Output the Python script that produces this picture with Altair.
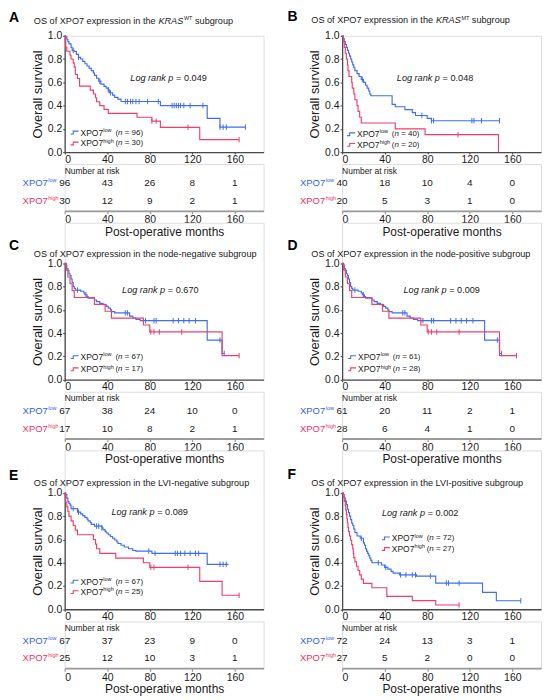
import altair as alt
import pandas as pd

FONT = "Liberation Sans"
BLUE = "#3d6ef5"
RED = "#f43d67"
BLUE_TXT = "#2e62f2"
RED_TXT = "#f2315e"
AXIS = "#4a4a4a"
INK = "#1a1a1a"

X_MAX = 187
W = 200
H = 117
RISK_H = 47
ROW_GAP = 12

TIME_TICKS = [0, 40, 80, 120, 160]
SURV_TICKS = [0.0, 0.2, 0.4, 0.6, 0.8, 1.0]

# ---------------- data ----------------
# Panel A  (KRAS WT)
A_low_t = [0, 1, 2, 3, 4, 6, 7, 9, 11, 13, 15, 17, 19, 21, 23, 25, 27, 28, 30, 32, 34, 37, 39, 41, 42, 45, 47, 50, 53, 90, 134, 146, 170]
A_low_s = [1.0, 0.99, 0.97, 0.95, 0.93, 0.9, 0.875, 0.865, 0.84, 0.815, 0.80, 0.78, 0.76, 0.74, 0.72, 0.70, 0.68, 0.66, 0.635, 0.61, 0.585, 0.565, 0.55, 0.535, 0.51, 0.49, 0.47, 0.455, 0.435, 0.40, 0.29, 0.215, 0.215]
A_low_c = [8, 13, 33, 41, 43, 57, 59, 62, 64, 67, 70, 78, 88, 101, 103, 105, 107, 109, 112, 118, 130, 146, 149, 152, 170]
A_high_t = [0, 0.5, 1, 2, 5, 6, 8, 9, 10, 12, 14, 24, 27, 29, 30, 33, 37, 41, 68, 82, 90, 127, 164]
A_high_s = [1.0, 0.967, 0.9, 0.867, 0.833, 0.8, 0.767, 0.733, 0.667, 0.633, 0.567, 0.533, 0.5, 0.467, 0.433, 0.4, 0.367, 0.333, 0.3, 0.267, 0.213, 0.107, 0.107]
A_high_c = [82, 86, 116, 164]
A_risk_low = [96, 43, 26, 8, 1]
A_risk_high = [30, 12, 9, 2, 1]

# Panel B  (KRAS MT)
B_low_t = [0, 1, 2, 3, 4, 5, 6, 7, 8, 9, 10, 11, 12, 14, 16, 18, 20, 22, 23.5, 25, 26, 27, 47, 50, 59, 66, 69, 80, 84, 148]
B_low_s = [1.0, 0.975, 0.95, 0.925, 0.9, 0.875, 0.85, 0.825, 0.8, 0.775, 0.75, 0.725, 0.7, 0.675, 0.65, 0.625, 0.6, 0.575, 0.55, 0.525, 0.5, 0.485, 0.41, 0.39, 0.365, 0.34, 0.315, 0.29, 0.27, 0.27]
B_low_c = [19, 75, 84, 86, 122, 124, 131, 148]
B_high_t = [0, 1, 2, 3, 4, 5, 5.5, 6.5, 9, 9.5, 11, 12, 14, 15, 16.5, 18, 50, 78, 147]
B_high_s = [1.0, 0.95, 0.9, 0.85, 0.8, 0.75, 0.7, 0.65, 0.6, 0.55, 0.5, 0.45, 0.4, 0.35, 0.3, 0.25, 0.2, 0.15, 0.0]
B_high_c = [109]
B_risk_low = [40, 18, 10, 4, 0]
B_risk_high = [20, 5, 3, 1, 0]

# Panel C  (node-negative)
C_low_t = [0, 1, 2, 3, 4, 5, 6, 7, 8, 9, 10, 15, 18, 19, 21, 22, 28, 30, 33, 36, 39, 41, 43, 44, 47, 61, 64, 67, 71, 134, 148, 150]
C_low_s = [1.0, 0.985, 0.955, 0.94, 0.91, 0.895, 0.865, 0.835, 0.80, 0.785, 0.77, 0.76, 0.745, 0.73, 0.715, 0.70, 0.685, 0.67, 0.655, 0.645, 0.63, 0.615, 0.60, 0.585, 0.574, 0.546, 0.53, 0.517, 0.507, 0.34, 0.225, 0.225]
C_low_c = [12, 20, 57, 59, 76, 84, 86, 102, 107, 112, 117, 123, 146, 150]
C_high_t = [0, 1.5, 3, 5, 7, 9, 28, 38, 44, 74, 80, 148, 164]
C_high_s = [1.0, 0.941, 0.882, 0.824, 0.765, 0.706, 0.647, 0.588, 0.529, 0.47, 0.41, 0.206, 0.206]
C_high_c = [81, 84, 89, 110, 164]
C_risk_low = [67, 38, 24, 10, 0]
C_risk_high = [17, 10, 8, 2, 1]

# Panel D  (node-positive)
D_low_t = [0, 1, 2, 3, 4, 5, 6, 7, 8, 9, 10, 15, 18, 19, 21, 22, 28, 30, 33, 36, 39, 41, 43, 44, 47, 61, 64, 67, 71, 134, 148, 150]
D_low_s = [1.0, 0.985, 0.955, 0.94, 0.91, 0.895, 0.865, 0.835, 0.80, 0.785, 0.77, 0.76, 0.745, 0.73, 0.715, 0.70, 0.685, 0.67, 0.655, 0.645, 0.63, 0.615, 0.60, 0.585, 0.574, 0.546, 0.53, 0.517, 0.507, 0.34, 0.225, 0.225]
D_low_c = [12, 20, 57, 59, 76, 84, 86, 102, 107, 112, 117, 123, 146, 150]
D_high_t = [0, 1.5, 3, 5, 7, 9, 28, 38, 44, 74, 80, 148, 164]
D_high_s = [1.0, 0.941, 0.882, 0.824, 0.765, 0.706, 0.647, 0.588, 0.529, 0.47, 0.41, 0.206, 0.206]
D_high_c = [81, 84, 89, 110, 164]
D_risk_low = [61, 20, 11, 2, 1]
D_risk_high = [28, 6, 4, 1, 0]

# Panel E  (LVI-negative)
E_low_t = [0, 1, 2, 3, 4, 5, 6, 12, 15, 17, 19, 21, 22, 24, 25, 28, 35, 36, 38, 39, 41, 43, 45, 47, 49, 50, 53, 56, 60, 64, 67, 82, 134, 154]
E_low_s = [1.0, 0.985, 0.955, 0.925, 0.91, 0.895, 0.865, 0.835, 0.82, 0.805, 0.79, 0.775, 0.76, 0.745, 0.73, 0.715, 0.70, 0.685, 0.67, 0.655, 0.64, 0.625, 0.61, 0.595, 0.58, 0.565, 0.55, 0.535, 0.52, 0.505, 0.50, 0.48, 0.386, 0.386]
E_low_c = [8, 13, 30, 32, 35, 79, 85, 104, 106, 109, 113, 118, 123, 126, 146, 149, 152]
E_high_t = [0, 0.5, 1, 2, 3, 4, 6, 8, 10, 12, 27, 29, 30, 33, 48, 74, 80, 127, 148, 164]
E_high_s = [1.0, 0.96, 0.92, 0.88, 0.84, 0.8, 0.76, 0.72, 0.68, 0.64, 0.6, 0.56, 0.52, 0.48, 0.44, 0.40, 0.36, 0.24, 0.12, 0.12]
E_high_c = [81, 84, 116, 164]
E_risk_low = [67, 37, 23, 9, 0]
E_risk_high = [25, 12, 10, 3, 1]

# Panel F  (LVI-positive)
F_low_t = [0, 1, 2, 3, 4, 5, 6, 7, 8, 9, 10, 11, 12, 14, 17, 20, 21, 22, 23, 24, 25, 26, 27, 28, 37, 40, 43, 46, 48, 54, 70, 88, 132, 145, 168]
F_low_s = [1.0, 0.986, 0.958, 0.93, 0.9, 0.86, 0.83, 0.8, 0.77, 0.74, 0.72, 0.69, 0.66, 0.63, 0.61, 0.57, 0.55, 0.52, 0.50, 0.48, 0.46, 0.44, 0.42, 0.40, 0.38, 0.36, 0.345, 0.325, 0.31, 0.295, 0.285, 0.225, 0.145, 0.073, 0.073]
F_low_c = [18, 34, 41, 55, 60, 66, 69, 83, 98, 100, 110, 168]
F_high_t = [0, 1, 2, 3, 3.5, 4, 4.5, 5, 5.5, 6, 7, 8, 9, 10, 10.5, 11, 12, 13.5, 15, 16.5, 18, 20, 28, 42, 66, 88, 110]
F_high_s = [1.0, 0.963, 0.926, 0.889, 0.852, 0.815, 0.778, 0.741, 0.704, 0.667, 0.63, 0.593, 0.556, 0.519, 0.481, 0.444, 0.407, 0.37, 0.333, 0.296, 0.259, 0.222, 0.185, 0.111, 0.074, 0.037, 0.037]
F_high_c = [110]
F_risk_low = [72, 24, 13, 3, 1]
F_risk_high = [27, 5, 2, 0, 0]

LETTERS = ["A", "B", "C", "D", "E", "F"]
SUBGROUPS = ["KRAS", "KRAS", "node-negative", "node-positive", "LVI-negative", "LVI-positive"]
KRAS_SUP = ["WT", "MT", None, None, None, None]
P_VALUES = ["0.049", "0.048", "0.670", "0.009", "0.089", "0.002"]
N_LOW = [96, 40, 67, 61, 67, 72]
N_HIGH = [30, 20, 17, 28, 25, 27]

CURVES = [
    (A_low_t, A_low_s, A_low_c, A_high_t, A_high_s, A_high_c, A_risk_low, A_risk_high),
    (B_low_t, B_low_s, B_low_c, B_high_t, B_high_s, B_high_c, B_risk_low, B_risk_high),
    (C_low_t, C_low_s, C_low_c, C_high_t, C_high_s, C_high_c, C_risk_low, C_risk_high),
    (D_low_t, D_low_s, D_low_c, D_high_t, D_high_s, D_high_c, D_risk_low, D_risk_high),
    (E_low_t, E_low_s, E_low_c, E_high_t, E_high_s, E_high_c, E_risk_low, E_risk_high),
    (F_low_t, F_low_s, F_low_c, F_high_t, F_high_s, F_high_c, F_risk_low, F_risk_high),
]

# ---------------- layout of annotations (pixels, relative to plot area) ----------------
# extra = empty band kept above the plot area of panels C-F (keeps the grid rows aligned)
# letter_y = top of the panel letter
LAYOUT = [
    dict(extra=0.0, letter_x=-56, letter_y=-25.0, title_y=-12.0, p_x=66, p_y=42, leg_x=6, leg_y=97.3, leg_gap=11.0),
    dict(extra=0.0, letter_x=-55, letter_y=-25.5, title_y=-12.5, p_x=55, p_y=42.3, leg_x=5, leg_y=99.0, leg_gap=10.7),
    dict(extra=40.8, letter_x=-56, letter_y=-24.0, title_y=-6.7, p_x=57.7, p_y=27.3, leg_x=6, leg_y=94.3, leg_gap=12.3),
    dict(extra=40.8, letter_x=-55, letter_y=-24.0, title_y=-6.7, p_x=61.7, p_y=27.3, leg_x=6, leg_y=94.3, leg_gap=12.3),
    dict(extra=42.7, letter_x=-56, letter_y=-24.0, title_y=-6.7, p_x=47, p_y=19.2, leg_x=6, leg_y=89.2, leg_gap=10.6),
    dict(extra=42.7, letter_x=-55, letter_y=-25.0, title_y=-6.7, p_x=40, p_y=20.7, leg_x=40, leg_y=45.7, leg_gap=10.7),
]

DUMMY = pd.DataFrame({"k": [0]})
LEG_PATH = "M-1,0.35H-0.35V-0.35H1"
CENSOR_PATH = "M0,-1L0,1"


def step_value(ts, ss, t):
    v = ss[0]
    for ti, si in zip(ts, ss):
        if ti <= t:
            v = si
        else:
            break
    return v


def txt(text, x, y, size, color=INK, style="normal", weight="normal",
        align="left", baseline="alphabetic"):
    return alt.Chart(DUMMY).mark_text(
        text=text, align=align, baseline=baseline, font=FONT, fontSize=size,
        fontStyle=style, fontWeight=weight, color=color
    ).encode(x=alt.value(x), y=alt.value(y))


X_SCALE = alt.Scale(domain=[0, X_MAX], nice=False, zero=True)

KM_X_AXIS = alt.Axis(values=TIME_TICKS, title=None, labelFontSize=10.5, labelPadding=0,
                     tickSize=2, domainColor=AXIS, tickColor=AXIS, domainWidth=1.3,
                     tickWidth=1.1, labelColor=INK, grid=False, labelFont=FONT)
KM_Y_AXIS = alt.Axis(values=SURV_TICKS, format=".1f", title="Overall survival",
                     titleFontSize=13, titleFontWeight="normal", titlePadding=3,
                     titleColor=INK, titleFont=FONT, labelFontSize=10.5, labelPadding=1,
                     tickSize=2, domainColor=AXIS, tickColor=AXIS, domainWidth=1.3,
                     tickWidth=1.1, labelColor=INK, grid=False, labelFont=FONT)


def km_chart(i):
    low_t, low_s, low_c, high_t, high_s, high_c, _, _ = CURVES[i]
    lay = LAYOUT[i]
    e = lay["extra"]
    y_scale = alt.Scale(domain=[0, 1], nice=False, range=[H + e, e])
    layers = []
    for ts, ss, cs, col in [(low_t, low_s, low_c, BLUE), (high_t, high_s, high_c, RED)]:
        line_df = pd.DataFrame({"t": ts, "s": ss})
        cen_df = pd.DataFrame({"t": cs, "s": [step_value(ts, ss, c) for c in cs]})
        layers.append(
            alt.Chart(line_df).mark_line(interpolate="step-after", strokeWidth=1.15, color=col)
            .encode(x=alt.X("t:Q", scale=X_SCALE, axis=KM_X_AXIS),
                    y=alt.Y("s:Q", scale=y_scale, axis=KM_Y_AXIS))
        )
        layers.append(
            alt.Chart(cen_df).mark_point(shape=CENSOR_PATH, size=30, filled=False,
                                         strokeWidth=1.0, color=col, opacity=1)
            .encode(x=alt.X("t:Q", scale=X_SCALE, axis=KM_X_AXIS),
                    y=alt.Y("s:Q", scale=y_scale, axis=KM_Y_AXIS))
        )
    # panel letter
    layers.append(txt(LETTERS[i], lay["letter_x"], e + lay["letter_y"], 14, color="#000",
                      weight="bold", baseline="top"))
    # title
    ty = e + lay["title_y"]
    fs = 9.2
    if KRAS_SUP[i]:
        x = -31
        layers.append(txt("OS of XPO7 expression in the", x, ty, fs))
        xk = x + 13.618 * fs
        layers.append(txt("KRAS", xk, ty, fs, style="italic"))
        xs = xk + 2.723 * fs + 0.6
        layers.append(txt(KRAS_SUP[i], xs, ty - 3.6, 5.5))
        sup_w = 1.555 if KRAS_SUP[i] == "WT" else 1.444
        xg = xs + sup_w * 5.5 + 0.278 * fs
        layers.append(txt("subgroup", xg, ty, fs))
    else:
        layers.append(txt("OS of XPO7 expression in the " + SUBGROUPS[i] + " subgroup", -31, ty, fs))
    # log-rank text
    px, py = lay["p_x"], e + lay["p_y"]
    layers.append(txt("Log rank p", px, py, fs, style="italic", baseline="middle"))
    layers.append(txt("= " + P_VALUES[i], px + (4.725 + 0.278) * fs, py, fs, baseline="middle"))
    # legend
    for k, (g, col, n) in enumerate([("low", BLUE, N_LOW[i]), ("high", RED, N_HIGH[i])]):
        y = e + lay["leg_y"] + k * lay["leg_gap"]
        x0 = lay["leg_x"]
        layers.append(
            alt.Chart(DUMMY).mark_point(shape=LEG_PATH, size=64, filled=False, strokeWidth=1.1,
                                        color=col, opacity=1)
            .encode(x=alt.value(x0 + 4), y=alt.value(y))
        )
        layers.append(txt("XPO7", x0 + 10, y, 8.5, baseline="middle"))
        layers.append(txt(g, x0 + 10 + 22.9, y - 2.8, 5.5, baseline="middle"))
        layers.append(txt("(", x0 + 45, y, 8, baseline="middle"))
        layers.append(txt("n", x0 + 47.7, y, 8, style="italic", baseline="middle"))
        layers.append(txt("= " + str(n) + ")", x0 + 54.4, y, 8, baseline="middle"))
    return alt.layer(*layers).properties(width=W, height=H + e)


RISK_X_AXIS = alt.Axis(values=TIME_TICKS, title="Post-operative months", titleFontSize=12,
                       titleFontWeight="normal", titleColor=INK, titlePadding=1,
                       titleFont=FONT, labelFont=FONT, labelFontSize=10.5, labelColor=INK,
                       labelPadding=1, tickSize=3, tickColor="#9a9a9a", tickWidth=1.2,
                       domainColor="#9a9a9a", domainWidth=1.8, grid=False)


def risk_chart(i):
    _, _, _, _, _, _, r_low, r_high = CURVES[i]
    df = pd.DataFrame({"t": TIME_TICKS + TIME_TICKS, "n": r_low + r_high,
                       "g": ["low"] * len(r_low) + ["high"] * len(r_high)})
    lab = pd.DataFrame({"g": ["low", "high"]})
    yscale = alt.Scale(type="point", domain=["low", "high"], padding=0.828, align=0.66)
    cscale = alt.Scale(domain=["low", "high"], range=[BLUE_TXT, RED_TXT])
    nums = alt.Chart(df).mark_text(font=FONT, fontSize=10, color=INK, baseline="middle").encode(
        x=alt.X("t:Q", scale=X_SCALE, axis=RISK_X_AXIS),
        y=alt.Y("g:N", scale=yscale, axis=None),
        text="n:Q",
    )
    names = alt.Chart(lab).mark_text(font=FONT, fontSize=9.5, align="right", baseline="middle").encode(
        x=alt.value(-17),
        y=alt.Y("g:N", scale=yscale, axis=None),
        color=alt.Color("g:N", scale=cscale, legend=None),
        text=alt.value("XPO7"),
    )
    sups = alt.Chart(lab).mark_text(font=FONT, fontSize=5.5, align="left", baseline="middle", dy=-3).encode(
        x=alt.value(-16.5),
        y=alt.Y("g:N", scale=yscale, axis=None),
        color=alt.Color("g:N", scale=cscale, legend=None),
        text="g:N",
    )
    header = txt("Number at risk", 0, 6.5, 8.5, baseline="middle")
    return alt.layer(nums, names, sups, header).properties(width=W, height=RISK_H)


cells = []
for r in range(3):
    cells.append(km_chart(2 * r))
    cells.append(km_chart(2 * r + 1))
    cells.append(risk_chart(2 * r))
    cells.append(risk_chart(2 * r + 1))

chart = (
    alt.concat(*cells, columns=2, spacing={"row": ROW_GAP, "column": 79}, bounds="flush")
    .properties(padding={"left": 0, "top": 0, "right": 0, "bottom": 0})
    .configure_view(stroke=None)
    .configure(font=FONT)
)

chart.save("out.html", embed_options={"renderer": "svg", "actions": False})
